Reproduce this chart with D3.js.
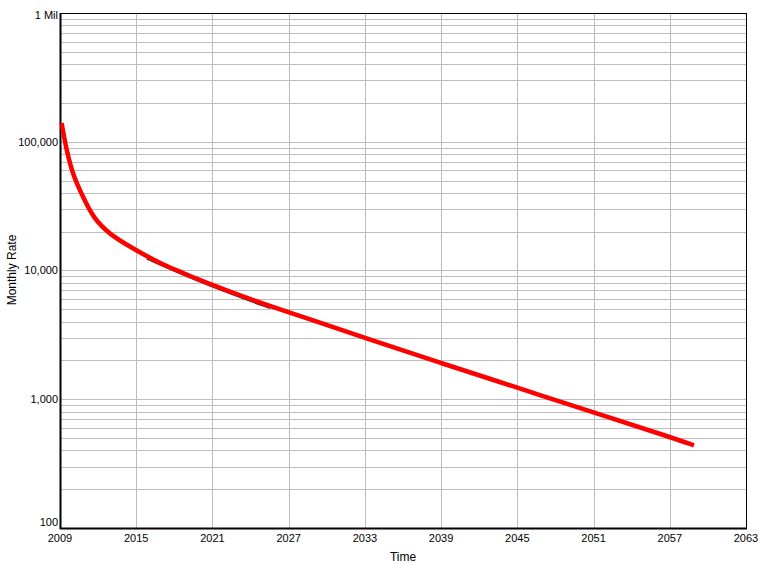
<!DOCTYPE html>
<html>
<head>
<meta charset="utf-8">
<script src="https://cdn.jsdelivr.net/npm/d3@7/dist/d3.min.js"></script>
<style>
  html, body { margin: 0; padding: 0; background: #fff; }
  svg { display: block; font-family: "Liberation Sans", Arial, Helvetica, sans-serif; }
</style>
</head>
<body>
<svg id="chart" width="763" height="566"></svg>
<script>
// ---- data ----
const forecastYears  = [2009.13, 2009.5, 2010.05, 2010.83, 2011.62, 2012.94, 2014.51, 2015.82, 2017.13, 2018.45, 2019.76, 2022.38, 2025.0, 2027.63, 2030.25, 2033, 2039, 2045, 2051, 2057, 2058.9];
const forecastValues = [139700, 86500, 53700, 37000, 25500, 19000, 15300, 12900, 11100, 9800, 8600, 6860, 5510, 4520, 3710, 2990, 1910, 1230, 790, 510, 438];

const actualYears  = [2015.82, 2019.2, 2022.62, 2025.53];
const actualValues = [12300, 8750, 6450, 5080];

const xTicks = [2009, 2015, 2021, 2027, 2033, 2039, 2045, 2051, 2057, 2063];
const yTicks = [100, 1000, 10000, 100000, 1000000];
const yTickLabels = ["100", "1,000", "10,000", "100,000", "1 Mil"];

(function () {
// ---- layout ----
const svg = d3.select("#chart");
const pL = 60, pR = 746, pT = 13, pB = 528;

const x = d3.scaleLinear().domain([2009, 2063]).range([pL, pR]);
const y = d3.scaleLog().domain([100, 1000000]).range([pB, pT]);

// minor + major horizontal grid
const yGrid = [];
for (let d = 100; d < 1000000; d *= 10) {
  for (let m = 1; m <= 9; m++) yGrid.push(d * m);
}
svg.append("g").selectAll("line").data(yGrid).join("line")
  .attr("x1", pL).attr("x2", pR)
  .attr("y1", d => Math.round(y(d)) + 0.5).attr("y2", d => Math.round(y(d)) + 0.5)
  .attr("stroke", "#bdbdbd").attr("stroke-width", 1);

svg.append("g").selectAll("line").data(xTicks).join("line")
  .attr("x1", d => Math.round(x(d)) + 0.5).attr("x2", d => Math.round(x(d)) + 0.5)
  .attr("y1", pT).attr("y2", pB)
  .attr("stroke", "#bdbdbd").attr("stroke-width", 1);

// frame
svg.append("rect").attr("x", pL + 0.5).attr("y", pT + 0.5)
  .attr("width", pR - pL).attr("height", pB - pT)
  .attr("fill", "none").attr("stroke", "#000").attr("stroke-width", 1);
svg.append("line").attr("x1", pL + 0.5).attr("x2", pL + 0.5).attr("y1", pT).attr("y2", pB + 1)
  .attr("stroke", "#000").attr("stroke-width", 2);
svg.append("line").attr("x1", pL).attr("x2", pR + 1).attr("y1", pB + 0.5).attr("y2", pB + 0.5)
  .attr("stroke", "#000").attr("stroke-width", 2);

// series
const line = d3.line().x(d => x(d[0])).y(d => y(d[1])).curve(d3.curveBasis);

svg.append("path")
  .datum(actualYears.map((v, i) => [v, actualValues[i]]))
  .attr("d", line).attr("fill", "none")
  .attr("stroke", "#333").attr("stroke-width", 1.5);

svg.append("path")
  .datum(forecastYears.map((v, i) => [v, forecastValues[i]]))
  .attr("d", line).attr("fill", "none")
  .attr("stroke", "#ff0000").attr("stroke-width", 4.5)
  .attr("stroke-linejoin", "round");

// y tick labels
svg.append("g").selectAll("text").data(yTicks).join("text")
  .attr("x", pL - 2)
  .attr("y", d => Math.min(Math.max(y(d), pT + 2), pB - 6))
  .attr("dy", "0.35em")
  .attr("text-anchor", "end")
  .attr("font-size", 11)
  .attr("fill", "#000")
  .text((d, i) => yTickLabels[i]);

// x tick labels
svg.append("g").selectAll("text").data(xTicks).join("text")
  .attr("x", d => x(d))
  .attr("y", 538)
  .attr("dy", "0.35em")
  .attr("text-anchor", "middle")
  .attr("font-size", 11)
  .attr("fill", "#000")
  .text(d => d);

// axis titles
svg.append("text").attr("x", 403).attr("y", 561)
  .attr("text-anchor", "middle").attr("font-size", 12).text("Time");
svg.append("text")
  .attr("transform", "translate(16,270) rotate(-90)")
  .attr("text-anchor", "middle").attr("font-size", 12).text("Monthly Rate");
})();
</script>
</body>
</html>
